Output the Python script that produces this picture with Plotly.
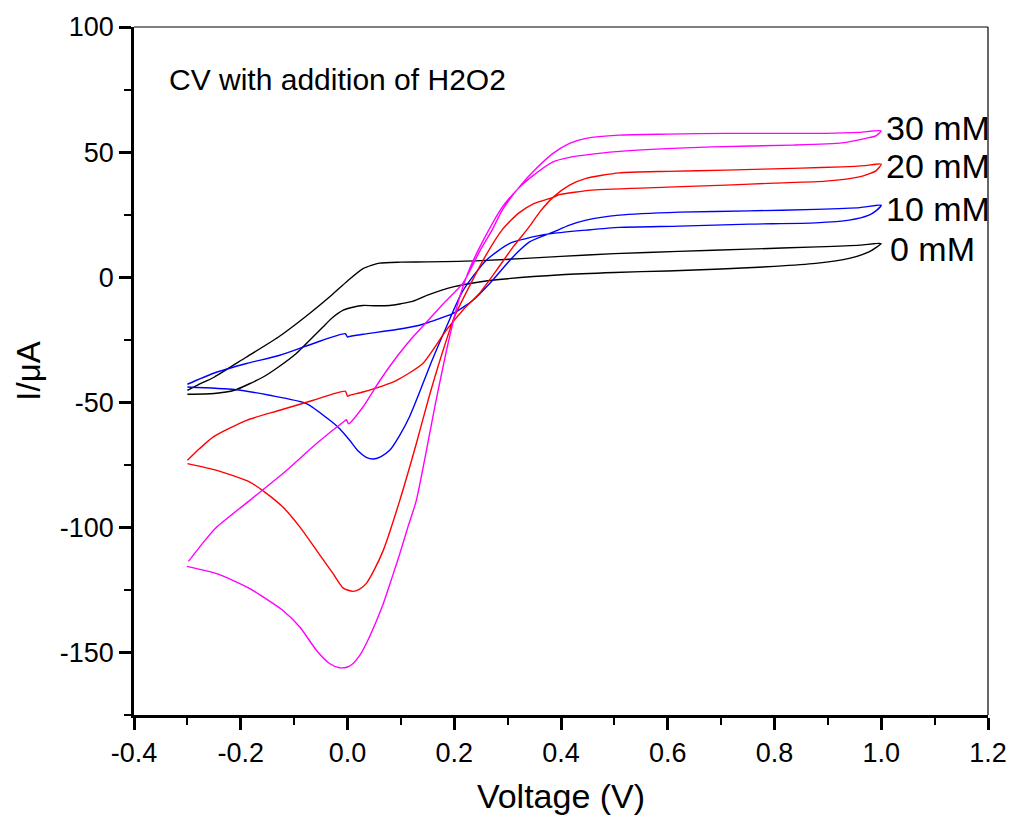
import plotly.graph_objects as go

# Cyclic voltammograms with increasing H2O2 concentration.
# Each loop: anodic sweep (-0.3 V -> 1.0 V) followed by cathodic sweep (1.0 V -> -0.3 V)

conc_labels = ["0 mM", "10 mM", "20 mM", "30 mM"]
line_colors = ["#000000", "#0000FF", "#FF0000", "#FF00FF"]

# 0 mM
v_0mM_fwd = [-0.300, -0.280, -0.250, -0.190, -0.130, -0.080, -0.030, 0.000, 0.030, 0.060,
             0.100, 0.150, 0.250, 0.400, 0.500, 0.620, 0.750, 0.880, 0.960, 1.000]
i_0mM_fwd = [-45.2, -43.0, -40.0, -32.0, -24.0, -16.0, -7.2, -1.5, 3.5, 5.6,
             6.0, 6.1, 6.6, 8.3, 9.4, 10.3, 11.2, 12.1, 12.8, 13.5]
v_0mM_rev = [0.990, 0.977, 0.940, 0.877, 0.800, 0.700, 0.600, 0.500, 0.400, 0.300,
             0.250, 0.200, 0.150, 0.123, 0.100, 0.079, 0.050, 0.029, 0.010, -0.008,
             -0.030, -0.046, -0.070, -0.096, -0.130, -0.158, -0.212, -0.250, -0.300]
i_0mM_rev = [11.8, 10.1, 7.5, 5.5, 4.3, 3.3, 2.5, 1.9, 1.0, -0.6,
             -1.8, -3.8, -7.2, -9.6, -10.6, -11.3, -11.4, -11.3, -12.0, -13.2,
             -16.5, -19.9, -25.0, -30.5, -36.0, -39.9, -45.2, -46.5, -46.8]

# 10 mM
v_10mM_fwd = [-0.300, -0.252, -0.189, -0.127, -0.064, -0.004, 0.000, 0.004, 0.029, 0.092,
              0.135, 0.154, 0.198, 0.235, 0.272, 0.310, 0.341, 0.385, 0.416, 0.447,
              0.509, 0.622, 0.753, 0.877, 0.960, 1.000]
i_10mM_fwd = [-42.8, -38.5, -34.5, -31.2, -26.5, -22.6, -23.9, -23.7, -22.8, -20.9,
              -19.2, -17.9, -14.5, -9.2, -1.2, 8.1, 14.1, 18.0, 20.8, 22.8,
              24.8, 26.0, 26.5, 27.1, 27.8, 28.8]
v_10mM_rev = [0.990, 0.977, 0.940, 0.877, 0.753, 0.622, 0.509, 0.447, 0.385, 0.354,
              0.304, 0.260, 0.216, 0.185, 0.157, 0.135, 0.116, 0.097, 0.079, 0.062,
              0.048, 0.035, 0.020, 0.004, -0.015, -0.033, -0.077, -0.146, -0.212, -0.300]
i_10mM_rev = [26.5, 24.8, 22.8, 21.7, 21.2, 20.4, 19.9, 18.8, 17.5, 16.4,
              13.5, 6.8, -5.5, -20.0, -34.0, -46.0, -55.9, -63.5, -69.2, -71.8,
              -72.7, -72.0, -69.5, -65.2, -60.5, -57.2, -50.5, -47.2, -44.9, -43.9]

# 20 mM
v_20mM_fwd = [-0.300, -0.277, -0.252, -0.189, -0.127, -0.064, -0.004, 0.000, 0.004, 0.029,
              0.092, 0.141, 0.185, 0.216, 0.247, 0.280, 0.310, 0.340, 0.360, 0.385,
              0.416, 0.447, 0.509, 0.600, 0.709, 0.850, 0.927, 0.970, 1.000]
i_20mM_fwd = [-73.2, -68.5, -63.9, -57.2, -53.2, -49.2, -45.6, -47.6, -47.2, -45.9,
              -41.2, -34.5, -21.2, -13.2, -6.5, 3.0, 12.0, 20.0, 26.0, 31.9,
              36.8, 39.5, 41.7, 42.3, 42.8, 43.6, 44.1, 44.6, 45.2]
v_20mM_rev = [0.990, 0.959, 0.896, 0.800, 0.709, 0.600, 0.459, 0.397, 0.385, 0.350,
              0.320, 0.290, 0.260, 0.230, 0.200, 0.175, 0.151, 0.129, 0.098, 0.067,
              0.050, 0.035, 0.022, 0.010, -0.008, -0.027, -0.058, -0.089, -0.121, -0.155,
              -0.183, -0.245, -0.300]
i_20mM_rev = [42.5, 40.1, 38.4, 37.6, 36.8, 36.0, 34.8, 33.0, 31.9, 29.5,
              25.5, 19.0, 9.0, -3.0, -16.0, -32.0, -49.2, -66.5, -89.2, -109.2,
              -117.0, -122.5, -124.8, -125.6, -124.3, -118.5, -109.2, -99.9, -91.9, -85.9,
              -81.9, -77.2, -74.5]

# 30 mM
v_30mM_fwd = [-0.298, -0.270, -0.245, -0.183, -0.121, -0.058, -0.006, -0.002, 0.002, 0.029,
              0.060, 0.092, 0.120, 0.150, 0.180, 0.216, 0.247, 0.270, 0.290, 0.322,
              0.354, 0.385, 0.416, 0.447, 0.509, 0.600, 0.709, 0.896, 0.959, 1.000]
i_30mM_fwd = [-113.6, -106.0, -99.9, -89.2, -78.5, -66.5, -57.6, -57.0, -58.6, -51.9,
              -41.5, -31.9, -24.5, -17.5, -10.5, -2.5, 10.1, 18.5, 26.8, 36.1,
              43.5, 49.5, 53.5, 55.5, 56.8, 57.2, 57.5, 57.5, 57.9, 58.5]
v_30mM_rev = [0.990, 0.971, 0.927, 0.834, 0.684, 0.522, 0.459, 0.416, 0.385, 0.341,
              0.320, 0.290, 0.260, 0.230, 0.210, 0.190, 0.166, 0.129, 0.113, 0.098,
              0.082, 0.067, 0.050, 0.035, 0.022, 0.010, 0.000, -0.015, -0.033, -0.058,
              -0.089, -0.121, -0.183, -0.245, -0.301]
i_30mM_rev = [56.5, 55.5, 53.7, 52.8, 52.1, 50.5, 49.2, 47.9, 46.1, 39.5,
              35.5, 28.0, 17.0, 4.0, -8.0, -25.0, -49.2, -89.2, -100.0, -110.5,
              -121.0, -130.5, -139.5, -146.5, -151.5, -154.5, -155.8, -156.1, -154.5, -149.2,
              -139.9, -133.2, -124.5, -118.5, -115.6]

# Right-hand labels: anchor voltage and current for each curve tag
label_v = [1.012, 1.005, 1.005, 1.005]
label_i = [11.4, 27.4, 44.4, 59.6]

x_tick_vals = [-0.4, -0.2, 0.0, 0.2, 0.4, 0.6, 0.8, 1.0, 1.2]
x_tick_text = ["-0.4", "-0.2", "0.0", "0.2", "0.4", "0.6", "0.8", "1.0", "1.2"]
y_tick_vals = [-150, -100, -50, 0, 50, 100]
y_tick_text = ["-150", "-100", "-50", "0", "50", "100"]

voltages = [v_0mM_fwd + v_0mM_rev, v_10mM_fwd + v_10mM_rev,
            v_20mM_fwd + v_20mM_rev, v_30mM_fwd + v_30mM_rev]
currents = [i_0mM_fwd + i_0mM_rev, i_10mM_fwd + i_10mM_rev,
            i_20mM_fwd + i_20mM_rev, i_30mM_fwd + i_30mM_rev]

FONT = "Liberation Sans, Arial, sans-serif"

fig = go.Figure()
for name, color, v, i in zip(conc_labels, line_colors, voltages, currents):
    fig.add_trace(go.Scatter(
        x=v, y=i, mode="lines", name=name,
        line=dict(color=color, width=1.4, shape="spline", smoothing=0.6),
        showlegend=False,
    ))

for name, v, i in zip(conc_labels, label_v, label_i):
    fig.add_annotation(x=v, y=i, text=name, showarrow=False,
                       xanchor="left", yanchor="middle",
                       font=dict(family=FONT, size=34, color="black"))

fig.add_annotation(x=-0.338, y=79, text="CV with addition of H2O2", showarrow=False,
                   xanchor="left", yanchor="middle",
                   font=dict(family=FONT, size=30, color="black"))

axis_common = dict(
    showgrid=False, zeroline=False, automargin=False,
    showline=True, linecolor="black", linewidth=2.5,
    ticks="outside", ticklen=12, tickwidth=2.5, tickcolor="black",
    tickfont=dict(family=FONT, size=27, color="black"),
)

fig.update_xaxes(
    range=[-0.4, 1.2], tickvals=x_tick_vals, ticktext=x_tick_text,
    minor=dict(ticks="outside", ticklen=7, tickwidth=2, tickcolor="black", dtick=0.1, tick0=-0.4),
    title=dict(text="Voltage (V)", font=dict(family=FONT, size=34, color="black"), standoff=18),
    **axis_common,
)
fig.update_yaxes(
    range=[-175, 100], tickvals=y_tick_vals, ticktext=y_tick_text,
    minor=dict(ticks="outside", ticklen=7, tickwidth=2, tickcolor="black", dtick=25, tick0=-150),
    title=dict(text="I/μA", font=dict(family=FONT, size=33, color="black"), standoff=10),
    **axis_common,
)

# thin frame on the top and right sides of the plot area
fig.add_shape(type="line", xref="paper", yref="paper", x0=0, x1=1, y0=1, y1=1,
              line=dict(color="black", width=1.2))
fig.add_shape(type="line", xref="paper", yref="paper", x0=1, x1=1, y0=0, y1=1,
              line=dict(color="black", width=1.2))

fig.update_layout(
    width=1013, height=821,
    margin=dict(l=134, r=25, t=27, b=106),
    paper_bgcolor="white", plot_bgcolor="white",
)

fig.write_html("out.html")
